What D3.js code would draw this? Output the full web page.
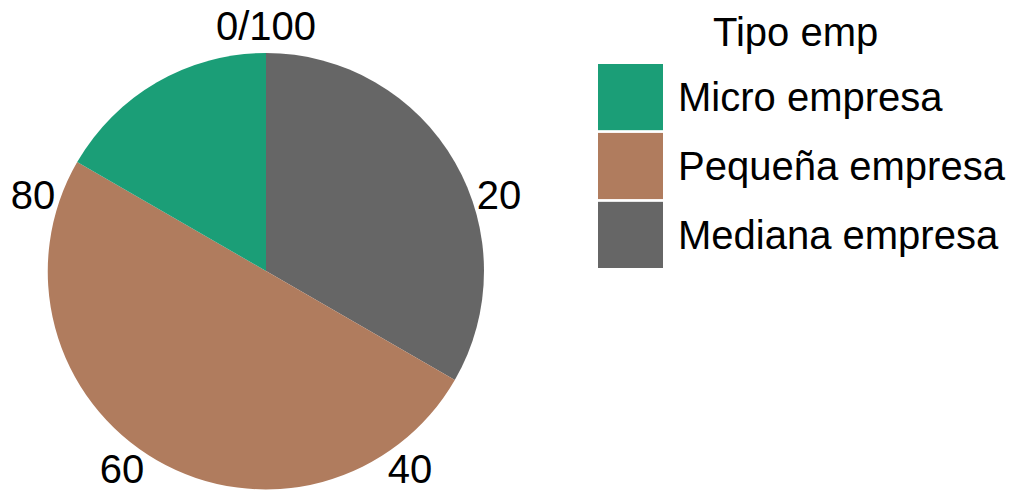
<!DOCTYPE html>
<html>
<head>
<meta charset="utf-8">
<script src="https://cdn.jsdelivr.net/npm/d3@7"></script>
<style>
  html, body { margin: 0; padding: 0; background: #ffffff; }
  svg { display: block; font-family: "Liberation Sans", Arial, sans-serif; }
</style>
</head>
<body>
<svg id="chart" width="1024" height="490"></svg>
<script>
// Share of companies by type (percent), drawn clockwise from 12 o'clock
const categories = ["Micro empresa", "Pequeña empresa", "Mediana empresa"];
const shares = [16.67, 50.0, 33.33];
const colours = ["#1B9E77", "#B07C5E", "#666666"];
const tickValues = [0, 20, 40, 60, 80];
const tickLabels = ["0/100", "20", "40", "60", "80"];
const legendTitle = "Tipo emp";

const svg = d3.select("#chart");
const cx = 266, cy = 271, radius = 218;

// Stacking order around the circle: last category first
const drawOrder = [2, 1, 0];
const slices = drawOrder.map(i => ({ name: categories[i], value: shares[i], colour: colours[i] }));

const pie = d3.pie().sort(null).value(d => d.value);
const arc = d3.arc().innerRadius(0).outerRadius(radius);

const g = svg.append("g").attr("transform", `translate(${cx},${cy})`);
g.selectAll("path.slice")
  .data(pie(slices))
  .join("path")
  .attr("class", "slice")
  .attr("d", arc)
  .attr("fill", d => d.data.colour);

// Angular axis labels (percent scale)
const theta = d3.scaleLinear().domain([0, 100]).range([0, 2 * Math.PI]);
const labelR = 245;
g.selectAll("text.tick")
  .data(tickValues)
  .join("text")
  .attr("class", "tick")
  .attr("x", (d) => labelR * Math.sin(theta(d)))
  .attr("y", (d) => -labelR * Math.cos(theta(d)))
  .attr("text-anchor", "middle")
  .attr("dominant-baseline", "central")
  .attr("font-size", 40)
  .attr("fill", "#000")
  .text((d, i) => tickLabels[i]);

// Legend
const legend = svg.append("g").attr("transform", "translate(598,0)");
legend.append("text")
  .attr("x", 115)
  .attr("y", 46)
  .attr("font-size", 40)
  .attr("fill", "#000")
  .text(legendTitle);

const keyY = d3.scaleBand().domain(categories).range([64, 268]).paddingInner(0.04).paddingOuter(0);
const items = legend.selectAll("g.item")
  .data(categories)
  .join("g")
  .attr("class", "item");
items.append("rect")
  .attr("x", 0)
  .attr("y", d => keyY(d))
  .attr("width", 65)
  .attr("height", keyY.bandwidth())
  .attr("fill", (d, i) => colours[i]);
items.append("text")
  .attr("x", 80)
  .attr("y", d => keyY(d) + keyY.bandwidth() / 2)
  .attr("dominant-baseline", "central")
  .attr("font-size", 40)
  .attr("fill", "#000")
  .text(d => d);
</script>
</body>
</html>
